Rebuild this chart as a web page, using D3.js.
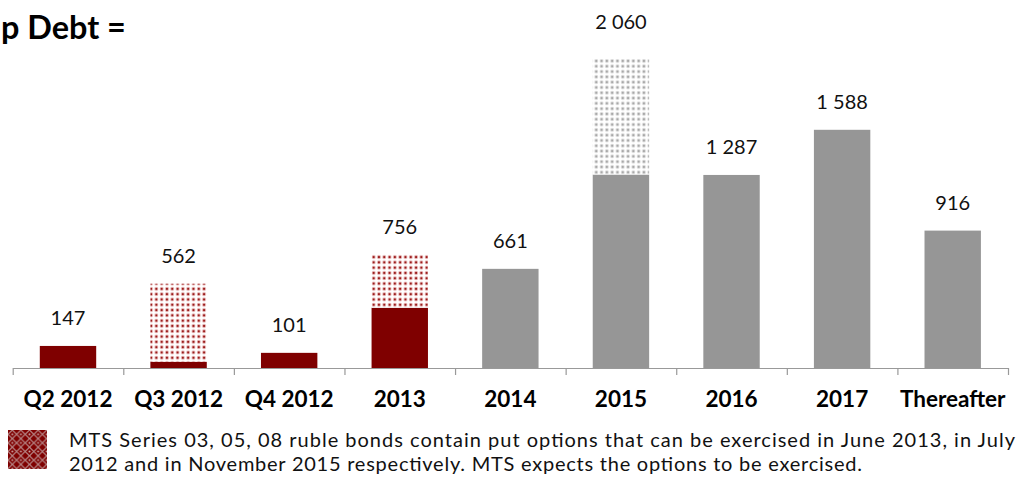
<!DOCTYPE html>
<html>
<head>
<meta charset="utf-8">
<script src="https://cdn.jsdelivr.net/npm/d3@7/dist/d3.min.js"></script>
<style>
  html, body { margin: 0; padding: 0; background: #fff; }
  svg { display: block; font-family: Lato, "Open Sans", sans-serif; }
</style>
</head>
<body>
<svg id="chart" width="1024" height="479"></svg>
<script>
// Debt repayment schedule, RUB bn
const categories = ["Q2 2012", "Q3 2012", "Q4 2012", "2013", "2014", "2015", "2016", "2017", "Thereafter"];
const scheduled  = [147, 42, 101, 402, 661, 1290, 1287, 1588, 916];
const putOption  = [0, 520, 0, 354, 0, 770, 0, 0, 0];
const totalLabels = ["147", "562", "101", "756", "661", "2 060", "1 287", "1 588", "916"];
const nearTerm = ["Q2 2012", "Q3 2012", "Q4 2012", "2013"];
const footnote = [
  "MTS Series 03, 05, 08 ruble bonds contain put options that can be exercised in June 2013, in July",
  "2012 and in November 2015 respectively. MTS expects the options to be exercised."
];

const RED = "#7f0000", GREY = "#969696";
const svg = d3.select("#chart");
const defs = svg.append("defs");

// dotted fill for put-option portions
function dotPattern(id, color, halo) {
  const p = defs.append("pattern").attr("id", id)
    .attr("patternUnits", "userSpaceOnUse").attr("width", 5.3).attr("height", 5.3);
  p.append("rect").attr("width", 5.3).attr("height", 5.3).attr("fill", "#fff");
  p.append("circle").attr("cx", 2.65).attr("cy", 2.65).attr("r", 2).attr("fill", halo);
  p.append("circle").attr("cx", 2.65).attr("cy", 2.65).attr("r", 1.1).attr("fill", color);
}
dotPattern("dotsRed", "#9a1c1c", "#e6b3b3");
dotPattern("dotsGrey", "#a8a8a8", "#dcdcdc");

// lattice fill for the legend swatch
const lp = defs.append("pattern").attr("id", "lattice")
  .attr("patternUnits", "userSpaceOnUse").attr("width", 8.6).attr("height", 8.6)
  .attr("x", 8).attr("y", 430);
lp.append("rect").attr("width", 8.6).attr("height", 8.6).attr("fill", RED);
lp.append("path").attr("d", "M0,4.3 L4.3,0 L8.6,4.3 L4.3,8.6 Z")
  .attr("fill", "none").attr("stroke", "#b88a8a").attr("stroke-width", 1.1);
lp.append("circle").attr("cx", 4.3).attr("cy", 4.3).attr("r", 1).attr("fill", "#c9a5a5");

const x0 = 12.7, x1 = 1008, baseY = 368;
const x = d3.scaleBand().domain(categories).range([x0, x1])
  .paddingInner(0.49).paddingOuter(0.245);
const y = d3.scaleLinear().domain([0, 2400]).range([baseY, 8]);

const rows = categories.map((c, i) => ({
  cat: c, base: scheduled[i], put: putOption[i], label: totalLabels[i],
  near: nearTerm.includes(c)
}));

// solid (scheduled) part
svg.append("g").selectAll("rect").data(rows).join("rect")
  .attr("x", d => x(d.cat)).attr("width", x.bandwidth())
  .attr("y", d => y(d.base)).attr("height", d => y(0) - y(d.base))
  .attr("fill", d => d.near ? RED : GREY);

// put-option part stacked on top
svg.append("g").selectAll("rect").data(rows.filter(d => d.put > 0)).join("rect")
  .attr("x", d => x(d.cat)).attr("width", x.bandwidth())
  .attr("y", d => y(d.base + d.put)).attr("height", d => y(d.base) - y(d.base + d.put))
  .attr("fill", d => d.near ? "url(#dotsRed)" : "url(#dotsGrey)");

// total labels
svg.append("g").selectAll("text").data(rows).join("text")
  .attr("x", d => x(d.cat) + x.bandwidth() / 2)
  .attr("y", d => y(d.base + d.put) - (d.put > 500 && !d.near ? 30 : 20.5))
  .attr("text-anchor", "middle").attr("font-size", 20).attr("fill", "#111")
  .text(d => d.label);

// axis with ticks at category boundaries
const edge = d3.scaleLinear().domain([0, categories.length]).range([x0, x1]);
const axisG = svg.append("g").attr("transform", `translate(0,${baseY})`)
  .call(d3.axisBottom(edge).tickValues(d3.range(categories.length + 1))
    .tickSize(7).tickSizeOuter(0).tickFormat(""));
axisG.select(".domain").attr("stroke", "#999").attr("stroke-width", 1.2);
axisG.selectAll(".tick line").attr("stroke", "#999").attr("stroke-width", 1.2);

// category labels
const labG = svg.append("g").attr("transform", `translate(0,${baseY})`)
  .call(d3.axisBottom(x).tickSize(0).tickPadding(0));
labG.select(".domain").remove();
labG.selectAll(".tick text")
  .attr("y", 39).attr("dy", 0)
  .attr("font-family", "Lato, sans-serif").attr("font-size", 22.5)
  .attr("font-weight", "bold").attr("fill", "#000");

// heading fragment at the top-left
const head = svg.append("text").attr("x", 1).attr("y", 39)
  .attr("font-size", 28).attr("font-weight", "bold").attr("fill", "#000")
  .text("p Debt =");
head.attr("font-size", 28 * 125 / head.node().getComputedTextLength());

// legend swatch and note
svg.append("rect").attr("x", 8).attr("y", 430).attr("width", 39).attr("height", 39)
  .attr("fill", "url(#lattice)");
const noteSpans = [946, 793];
svg.append("g").selectAll("text").data(footnote).join("text")
  .attr("x", 69).attr("y", (d, i) => 447 + i * 24)
  .attr("font-size", 20).attr("fill", "#111")
  .attr("textLength", (d, i) => noteSpans[i]).attr("lengthAdjust", "spacing")
  .text(d => d);
</script>
</body>
</html>
